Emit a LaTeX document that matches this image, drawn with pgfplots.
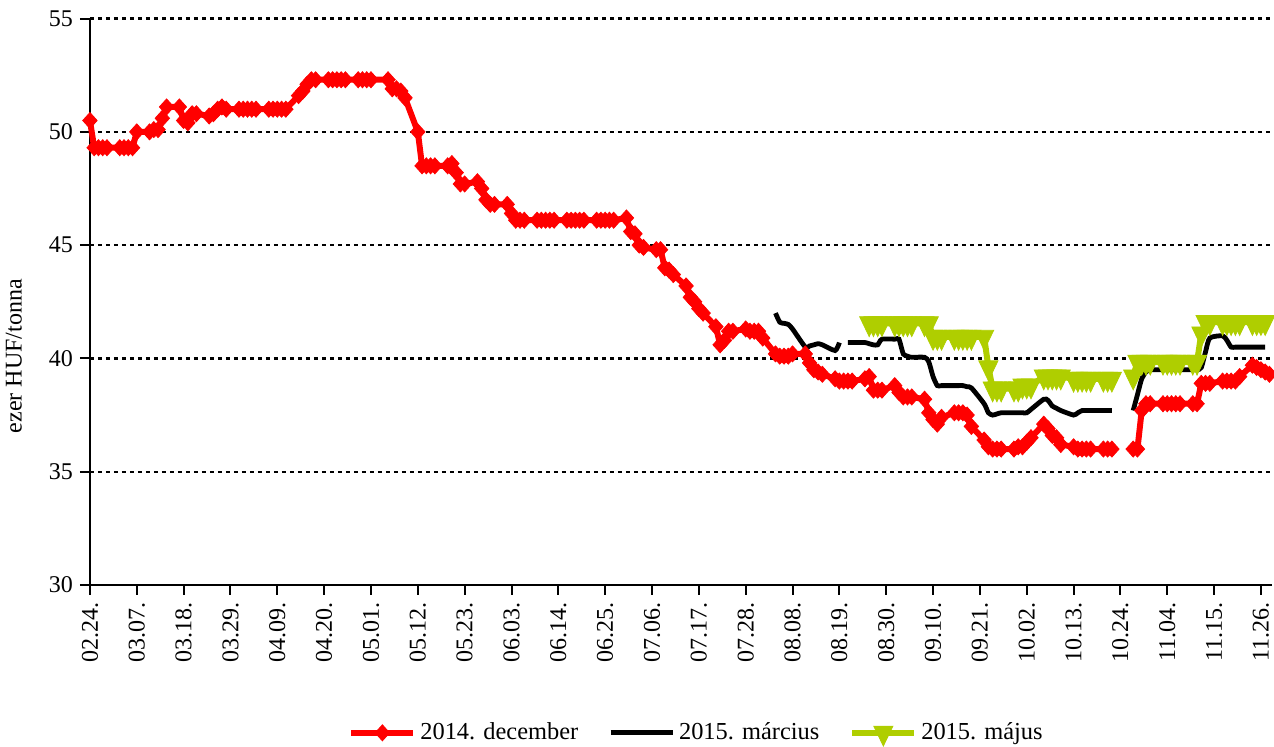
\documentclass[border=0pt]{standalone}
\usepackage{pgfplots}
\pgfplotsset{compat=1.18}
\usepackage{pgfplotstable}
\usepackage{fontspec}
\setmainfont{Liberation Serif}
\definecolor{piros}{RGB}{255,0,0}
\definecolor{zold}{RGB}{175,206,0}

% day 0 = 2014.02.24, trading days only
\pgfplotstableread{
day val
0 50.5
1 49.3
2 49.3
3 49.3
4 49.3
7 49.3
8 49.3
9 49.3
10 49.3
11 50.0
14 50.0
15 50.1
16 50.1
17 50.6
18 51.1
21 51.1
22 50.5
23 50.4
24 50.8
25 50.8
28 50.7
29 50.8
30 51.0
31 51.1
32 51.0
35 51.0
36 51.0
37 51.0
38 51.0
39 51.0
42 51.0
43 51.0
44 51.0
45 51.0
46 51.0
49 51.6
50 51.8
51 52.1
52 52.3
53 52.3
56 52.3
57 52.3
58 52.3
59 52.3
60 52.3
63 52.3
64 52.3
65 52.3
66 52.3
70 52.3
71 51.9
72 51.9
73 51.8
74 51.5
77 50.0
78 48.5
79 48.5
80 48.5
81 48.5
84 48.5
85 48.6
86 48.2
87 47.7
88 47.7
91 47.8
92 47.5
93 47.0
94 46.8
95 46.8
98 46.8
99 46.4
100 46.1
101 46.1
102 46.1
105 46.1
106 46.1
107 46.1
108 46.1
109 46.1
112 46.1
113 46.1
114 46.1
115 46.1
116 46.1
119 46.1
120 46.1
121 46.1
122 46.1
123 46.1
126 46.2
127 45.6
128 45.5
129 45.0
130 44.9
133 44.8
134 44.8
135 44.0
136 43.9
137 43.7
140 43.2
141 42.7
142 42.5
143 42.2
144 42.0
147 41.4
148 40.6
149 40.8
150 41.2
151 41.2
154 41.3
155 41.2
156 41.2
157 41.2
158 40.9
161 40.2
162 40.1
163 40.1
164 40.1
165 40.2
168 40.2
169 39.8
170 39.5
171 39.4
172 39.3
175 39.1
176 39.0
177 39.0
178 39.0
179 39.0
182 39.1
183 39.2
184 38.6
185 38.6
186 38.6
189 38.8
190 38.5
191 38.3
192 38.3
193 38.3
196 38.2
197 37.6
198 37.3
199 37.1
200 37.4
203 37.6
204 37.6
205 37.6
206 37.5
207 37.0
210 36.4
211 36.1
212 36.0
213 36.0
214 36.0
217 36.0
218 36.1
219 36.1
220 36.3
221 36.5
224 37.1
225 36.9
226 36.6
227 36.5
228 36.2
231 36.1
232 36.0
233 36.0
234 36.0
235 36.0
238 36.0
239 36.0
240 36.0
241 nan
245 36.0
246 36.0
247 37.7
248 38.0
249 38.0
252 38.0
253 38.0
254 38.0
255 38.0
256 38.0
259 38.0
260 38.0
261 38.9
262 38.9
263 38.9
266 39.0
267 39.0
268 39.0
269 39.0
270 39.2
273 39.7
274 39.6
275 39.5
276 39.4
277 39.3
}\decdata

\pgfplotstableread{
day val
161 42.0
162 41.6
163 41.55
164 41.5
165 41.3
168 40.5
169 40.55
170 40.6
171 40.65
172 40.6
175 40.35
176 40.7
177 nan
178 40.7
179 40.7
182 40.7
183 40.65
184 40.6
185 40.6
186 40.85
189 40.85
190 40.85
191 40.2
192 40.1
193 40.05
196 40.05
197 39.85
198 39.2
199 38.8
200 38.8
203 38.8
204 38.8
205 38.8
206 38.75
207 38.7
210 38.0
211 37.6
212 37.5
213 37.55
214 37.6
217 37.6
218 37.6
219 37.6
220 37.6
221 37.75
224 38.2
225 38.15
226 37.9
227 37.8
228 37.7
231 37.5
232 37.6
233 37.7
234 37.7
235 37.7
238 37.7
239 37.7
240 37.7
241 nan
245 37.7
246 38.4
247 39.1
248 39.4
249 39.5
252 39.5
253 39.5
254 39.5
255 39.5
256 39.5
259 39.5
260 39.5
261 39.6
262 40.3
263 40.9
266 41.0
267 40.8
268 40.5
269 40.5
270 40.5
273 40.5
274 40.5
275 40.5
276 40.5
}\mardata

\pgfplotstableread{
day val
183 41.55
184 41.55
185 41.55
186 41.55
189 41.55
190 41.55
191 41.55
192 41.55
193 41.55
196 41.55
197 41.55
198 40.95
199 40.95
200 40.95
203 40.95
204 40.95
205 40.95
206 40.95
207 40.95
210 40.95
211 39.6
212 38.67
213 38.67
214 38.67
217 38.67
218 38.67
219 38.8
220 38.8
221 38.8
224 39.2
225 39.2
226 39.2
227 39.2
228 39.2
231 39.1
232 39.1
233 39.1
234 39.1
235 39.1
238 39.1
239 39.1
240 39.1
241 nan
245 39.2
246 39.85
247 39.85
248 39.85
249 39.85
252 39.85
253 39.85
254 39.85
255 39.85
256 39.85
259 39.85
260 39.85
261 41.1
262 41.6
263 41.6
266 41.6
267 41.6
268 41.6
269 41.6
270 41.6
273 41.6
274 41.6
275 41.6
276 41.6
}\majdata

\begin{document}
\begin{tikzpicture}
\begin{axis}[
    scale only axis,
    width=591pt, height=283.2pt,
    xmin=0, xmax=277.6,
    ymin=30, ymax=55,
    ytick={30,35,...,55},
    xtick={0,11,...,275},
    xticklabels={02.24.,03.07.,03.18.,03.29.,04.09.,04.20.,05.01.,05.12.,05.23.,06.03.,06.14.,06.25.,07.06.,07.17.,07.28.,08.08.,08.19.,08.30.,09.10.,09.21.,10.02.,10.13.,10.24.,11.04.,11.15.,11.26.},
    axis x line*=bottom, axis y line*=left,
    axis line style={-, line width=1pt},
    tick align=outside,
    major tick length=5pt,
    tick style={black, line width=1pt},
    ymajorgrids,
    major grid style={black, line width=1.1pt, dash pattern=on 2pt off 2pt},
    tick label style={font=\fontsize{12}{14}\selectfont},
    xticklabel style={rotate=90, anchor=east},
    /pgf/number format/assume math mode=true,
    ylabel={ezer HUF/tonna},
    ylabel style={at={(axis description cs:-0.0643,0.404)}, anchor=center, font=\fontsize{12}{14}\selectfont},
    clip=false,
    unbounded coords=jump,
    legend columns=3,
    legend style={at={(axis description cs:0.514,-0.261)}, anchor=center, draw=none, fill=none,
        font=\fontsize{12.2}{14}\selectfont,
        /tikz/every even column/.append style={column sep=13pt}},
    legend image code/.code={\draw[mark repeat=2,mark phase=2,#1] plot coordinates {(0pt,0pt) (15.5pt,0pt) (31pt,0pt)};},
]
\addplot[piros, line width=3pt, mark=diamond*, mark size=4pt,
    mark options={solid, xscale=1.2, line width=0.4pt, fill=piros, draw=piros}]
    table[x=day, y=val] {\decdata};
\addplot[black, line width=2.4pt, smooth, tension=0.4]
    table[x=day, y=val] {\mardata};
\addplot[zold, line width=3pt, mark=triangle*, mark size=5.5pt,
    mark options={solid, rotate=180, yscale=1.2, line width=0.4pt, fill=zold, draw=zold}]
    table[x=day, y=val] {\majdata};
\legend{2014. december, 2015. március, 2015. május}
\coordinate (bbsw) at (axis description cs:-0.0761,-0.2843);
\coordinate (bbne) at (axis description cs:1.0017,1.0328);
\end{axis}
\pgfresetboundingbox
\useasboundingbox (bbsw) rectangle (bbne);
\end{tikzpicture}
\end{document}
